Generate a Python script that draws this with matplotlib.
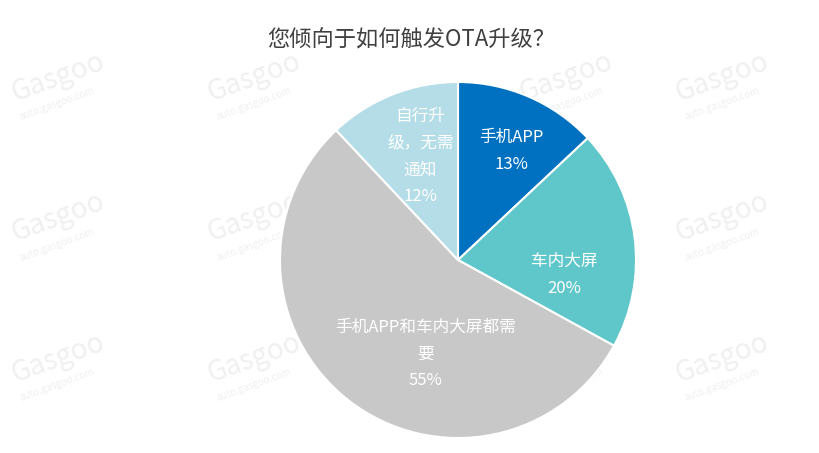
import matplotlib
matplotlib.use("Agg")
import numpy as np
import matplotlib.pyplot as plt

plt.rcParams['font.family'] = ['Noto Sans CJK SC', 'DejaVu Sans']

# data
categories = ["手机APP", "车内大屏", "手机APP和车内大屏都需要", "自行升级，无需通知"]
shares = [13, 20, 55, 12]
label_texts = ["手机APP\n13%", "车内大屏\n20%", "手机APP和车内大屏都需\n要\n55%", "自行升\n级，无需\n通知\n12%"]
colors = ["#0070C0", "#5FC7CA", "#C8C8C8", "#B4DDE7"]

# label placement (radius, angle in degrees) inside pie
label_pos = [(0.68, 64), (0.60, -8), (0.56, -109), (0.62, 110)]

fig = plt.figure(figsize=(8.2, 4.53), dpi=100)
fig.patch.set_facecolor("white")

# faint watermarks
for wx in [0.07, 0.31, 0.69, 0.88]:
    for wy in [0.83, 0.52, 0.21]:
        fig.text(wx, wy, "Gasgoo", fontsize=20, color="#F0F0F0", rotation=20,
                 ha="center", va="center", fontstyle="italic", zorder=0)
        fig.text(wx, wy - 0.06, "auto.gasgoo.com", fontsize=7, color="#F0F0F0",
                 rotation=20, ha="center", va="center", zorder=0)

cx, cy, r = 458, 453 - 260, 178
ax = fig.add_axes([(cx - r) / 820, (cy - r) / 453, 2 * r / 820, 2 * r / 453])
ax.set_facecolor("none")
ax.set_zorder(2)

wedges, _ = ax.pie(shares, colors=colors, startangle=90, counterclock=False,
                   wedgeprops=dict(edgecolor="white", linewidth=1.5))
ax.set_xlim(-1, 1)
ax.set_ylim(-1, 1)
ax.set_aspect("equal")

for txt, (rr, ang) in zip(label_texts, label_pos):
    a = np.deg2rad(ang)
    ax.text(rr * np.cos(a), rr * np.sin(a), txt, ha="center", va="center",
            color="white", fontsize=12, linespacing=1.75)

fig.text(411 / 820, 1 - 40 / 453, "您倾向于如何触发OTA升级？", ha="center", va="center",
         fontsize=16, color="#404040")

fig.savefig("out.png", dpi=100, facecolor="white")
